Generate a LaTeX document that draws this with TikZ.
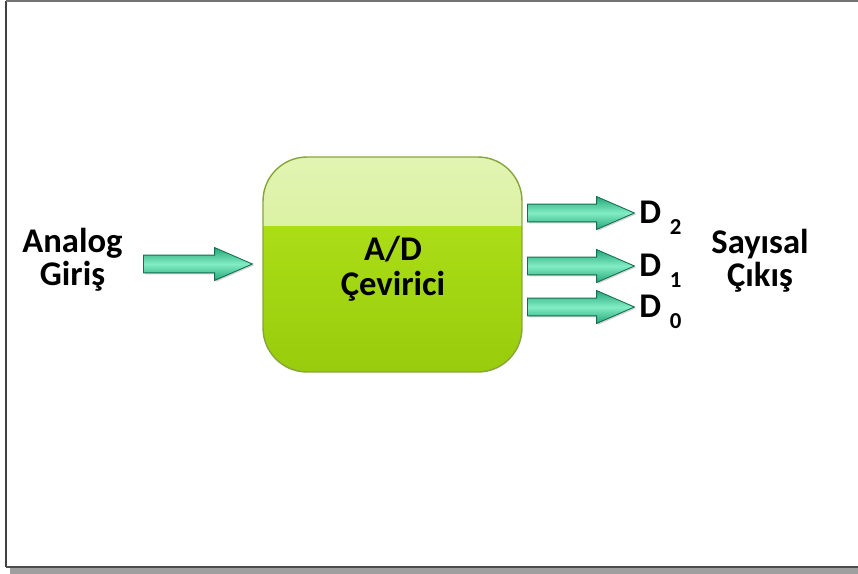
\documentclass[tikz,border=0pt]{standalone}
\usepackage{fontspec}
\setmainfont{Carlito}
\usepackage{tikz}
\usetikzlibrary{shapes.arrows, shadows, positioning, calc}

\definecolor{bandtop}{RGB}{226,244,178}
\definecolor{bandbot}{RGB}{206,236,132}
\definecolor{boxtop}{RGB}{180,230,28}
\definecolor{boxbot}{RGB}{152,204,12}
\definecolor{boxedge}{RGB}{135,165,60}
\definecolor{arrlight}{RGB}{130,236,196}
\definecolor{arrdark}{RGB}{36,168,122}
\definecolor{arredge}{RGB}{22,110,80}

\begin{document}
\begin{tikzpicture}[x=0.02cm, y=-0.02cm,
    lbl/.style={font=\fontsize{19.7}{18.6}\selectfont\bfseries, align=center, inner sep=0pt},
    dlbl/.style={font=\fontsize{19.7}{18.6}\selectfont\bfseries, inner sep=0pt},
    fatarrow/.style={single arrow, draw=arredge, line width=0.5pt, anchor=tail,
                     inner xsep=0pt, inner ysep=0.17cm,
                     single arrow head extend=0.15cm,
                     single arrow tip angle=47,
                     top color=arrdark, bottom color=arrdark, middle color=arrlight,
                     drop shadow={opacity=0.35, shadow xshift=0.8pt, shadow yshift=-0.8pt}},
    adcbox/.style={draw=boxedge, line width=0.8pt, rounded corners=0.88cm,
                   minimum width=5.18cm, minimum height=4.3cm,
                   top color=boxtop, bottom color=boxbot,
                   path picture={\fill[sharp corners, top color=bandtop, bottom color=bandbot]
                       (path picture bounding box.north west) rectangle
                       ([yshift=-1.36cm]path picture bounding box.north east);}}
]
\useasboundingbox (0,0) rectangle (858,574);

% page frame
\fill[gray!75] (10,568) rectangle (858,574);
\draw[line width=1.4pt, black!75] (6,1) -- (6,567);
\draw[line width=1.2pt, black!70] (6,567) -- (858,567);
\draw[line width=1pt, black!55] (6,1) -- (858,1);

% converter block
\node[adcbox] (adc) at (392.5,264.5) {};
\node[lbl, font=\fontsize{19.7}{20}\selectfont\bfseries] (adctxt) at (393,269) {A/D\\Çevirici};

% input side
\node[lbl] (giris) at (72.5,260) {Analog\\Giriş};
\node[fatarrow, minimum height=2.18cm] (inarr) at (143,264) {};

% output bits
\node[fatarrow, minimum height=2.14cm] (d2arr) at (527,213) {};
\node[fatarrow, minimum height=2.14cm] (d1arr) at (527,266) {};
\node[fatarrow, minimum height=2.14cm] (d0arr) at (527,307) {};

\node[dlbl, anchor=base west] (d2) at ([xshift=2pt, yshift=-5.7pt]d2arr.tip)
    {D\hspace{5pt}\raisebox{-6.8pt}{\fontsize{13}{13}\selectfont 2}};
\node[dlbl, anchor=base west] (d1) at ([xshift=2pt, yshift=-5.7pt]d1arr.tip)
    {D\hspace{5pt}\raisebox{-6.8pt}{\fontsize{13}{13}\selectfont 1}};
\node[dlbl, anchor=base west] (d0) at ([xshift=2pt, yshift=-5.7pt]d0arr.tip)
    {D\hspace{5pt}\raisebox{-6.8pt}{\fontsize{13}{13}\selectfont 0}};

\node[lbl] (cikis) at (760,261) {Sayısal\\Çıkış};
\end{tikzpicture}
\end{document}
